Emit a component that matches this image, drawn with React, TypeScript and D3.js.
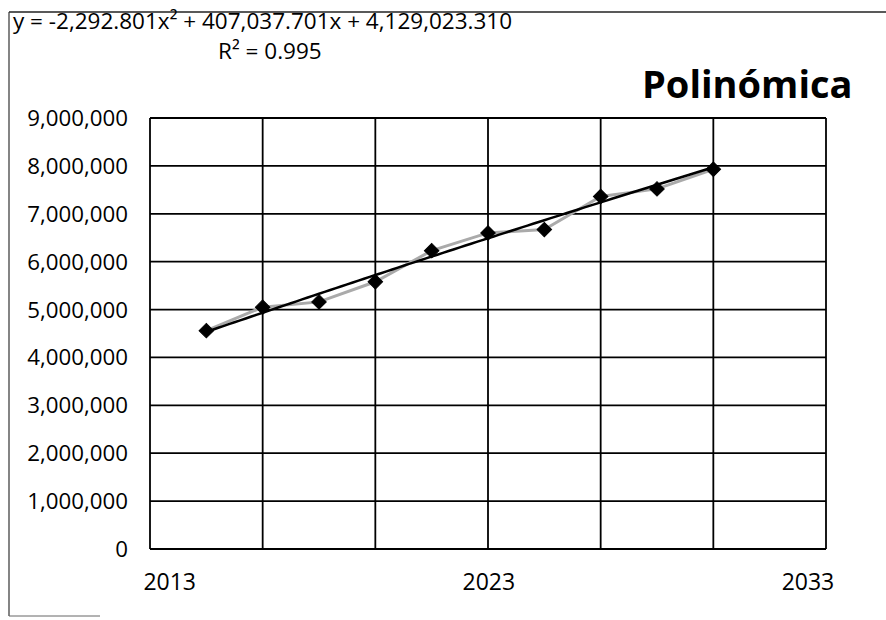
import React from "react";
import * as d3 from "d3";

const periods = [1, 2, 3, 4, 5, 6, 7, 8, 9, 10];
const population = [4560000, 5050000, 5160000, 5580000, 6230000, 6600000, 6670000, 7360000, 7520000, 7930000];
const trendCoefs = [-2292.801, 407037.701, 4129023.31]; // a, b, c
const equationText = "y = -2,292.801x² + 407,037.701x + 4,129,023.310";
const rSquaredText = "R² = 0.995";
const yTicks = [0, 1000000, 2000000, 3000000, 4000000, 5000000, 6000000, 7000000, 8000000, 9000000];
const xGrid = [0, 2, 4, 6, 8, 10, 12];
const yearLabels = [2013, 2023, 2033];
const titleText = "Polinómica";

const W = 886;
const H = 620;
const M = { left: 150, right: 826, top: 118, bottom: 549 };
const FONT = "'Open Sans', 'Noto Sans', sans-serif";

export default function App() {
  const x = d3.scaleLinear().domain([0, 12]).range([M.left, M.right]);
  const y = d3.scaleLinear().domain([0, 9000000]).range([M.bottom, M.top]);
  const yearX = d3.scaleLinear().domain([2013, 2033]).range([x(0.35), x(11.68)]);
  const fmt = d3.format(",");

  const data = periods.map((p, i) => ({ p, v: population[i] }));
  const line = d3.line<{ p: number; v: number }>().x((d) => x(d.p)).y((d) => y(d.v));

  const [a, b, c] = trendCoefs;
  const trendPts = d3.range(1, 10.001, 0.1).map((t) => ({ p: t, v: a * t * t + b * t + c }));

  const marker = d3.symbol().type(d3.symbolSquare).size(105)() as string;

  return (
    <svg width={W} height={H} style={{ position: "absolute", left: 0, top: 0, background: "#fff" }}>
      <line x1={9} y1={12} x2={W} y2={12} stroke="#222" strokeWidth={1.5} />
      <line x1={9} y1={12} x2={9} y2={616} stroke="#333" strokeWidth={1.2} />
      <line x1={9} y1={616} x2={100} y2={616} stroke="#666" strokeWidth={1} />

      {yTicks.map((t) => (
        <line key={"h" + t} x1={M.left} x2={M.right} y1={y(t)} y2={y(t)} stroke="#000" strokeWidth={1.8} />
      ))}
      {xGrid.map((t) => (
        <line key={"v" + t} x1={x(t)} x2={x(t)} y1={M.top} y2={M.bottom} stroke="#000" strokeWidth={1.8} />
      ))}

      {yTicks.map((t) => (
        <text key={"yl" + t} x={128} y={y(t)} dy="0.36em" textAnchor="end" fontFamily={FONT} fontSize={22.3} fill="#000">
          {fmt(t)}
        </text>
      ))}

      {yearLabels.map((yr) => (
        <text key={"xl" + yr} x={yearX(yr)} y={590} textAnchor="middle" fontFamily={FONT} fontSize={23} fill="#000">
          {yr}
        </text>
      ))}

      <path d={line(data) as string} fill="none" stroke="#aaa" strokeWidth={3} />
      {data.map((d) => (
        <path key={"m" + d.p} d={marker} transform={`translate(${x(d.p)},${y(d.v)}) rotate(45)`} fill="#000" stroke="#000" strokeWidth={1} />
      ))}
      <path d={line(trendPts) as string} fill="none" stroke="#000" strokeWidth={2.5} />

      <text x={13} y={29} fontFamily={FONT} fontSize={22.5} fill="#000">
        {equationText}
      </text>
      <text x={218} y={59} fontFamily={FONT} fontSize={22.5} fill="#000">
        {rSquaredText}
      </text>

      <text x={642} y={98} fontFamily={FONT} fontSize={38} fontWeight="bold" fill="#000">
        {titleText}
      </text>
    </svg>
  );
}
